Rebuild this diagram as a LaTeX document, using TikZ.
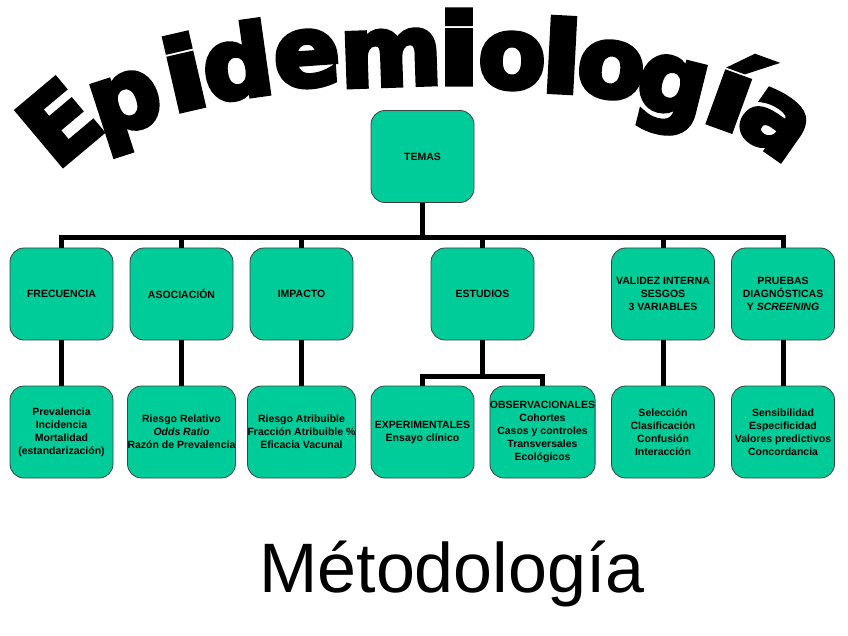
\documentclass[tikz,border=0pt]{standalone}
\usepackage{fontspec}
\usepackage{graphicx}
\setmainfont{Liberation Sans}
\newfontfamily\titlefont[FakeBold=5]{DejaVu Sans Bold}
\usetikzlibrary{calc}
\definecolor{boxfill}{HTML}{00CC99}
\definecolor{boxline}{HTML}{404040}
\begin{document}
\begin{tikzpicture}[x=1pt,y=-1pt,
  box/.style={draw=boxline, line width=0.8pt, fill=boxfill, rounded corners=14pt,
    minimum width=103pt, minimum height=92pt, inner sep=0pt, align=center,
    font=\fontsize{10.5}{13}\selectfont\bfseries},
  conn/.style={line width=5pt, line join=miter},
  tl/.style={inner sep=0pt, anchor=center, font=\titlefont\fontsize{98}{98}\selectfont}]
\useasboundingbox (0,0) rectangle (848,636);
% title letters
\node[tl, rotate=40]  (t1)  at (59,122)  {E};
\node[tl, rotate=18]  (t2)  at (129,112) {p};
\node[tl, rotate=13]  (t3)  at (184,72)  {\scalebox{1.25}[1]{i}};
\node[tl, rotate=8]   (t4)  at (237,61)  {d};
\node[tl, rotate=4]   (t5)  at (307,59)  {e};
\node[tl, rotate=2]   (t6)  at (391,58)  {m};
\node[tl, rotate=0]   (t7)  at (459,47)  {\scalebox{1.25}[1]{i}};
\node[tl, rotate=-1]  (t8)  at (512,61)  {o};
\node[tl, rotate=-3]  (t9)  at (562,55)  {\scalebox{1.2}[1]{l}};
\node[tl, rotate=-7]  (t10) at (611,70)  {o};
\node[tl, rotate=-14] (t11) at (670,96)  {g};
\node[tl, rotate=-20] (t12) at (733,90)  {\scalebox{1.3}[1]{í}};
\node[tl, rotate=-35] (t13) at (775,124) {a};
% boxes
\node[box] (temas) at (422.5,156.5) {TEMAS};
\node[box] (frec) at (61.5,294) {FRECUENCIA};
\node[box] (asoc) at (181.5,294) {ASOCIACIÓN};
\node[box] (imp)  at (301.5,294) {IMPACTO};
\node[box] (est)  at (482.5,294) {ESTUDIOS};
\node[box] (val)  at (663,294) {VALIDEZ INTERNA\\SESGOS\\3 VARIABLES};
\node[box] (pru)  at (783,294) {PRUEBAS\\DIAGNÓSTICAS\\Y \textit{SCREENING}};
\node[box] (prev) at (61.5,432) {Prevalencia\\Incidencia\\Mortalidad\\(estandarización)};
\node[box] (rr)   at (181.5,432) {Riesgo Relativo\\\textit{Odds Ratio}\\Razón de Prevalencia};
\node[box] (ra)   at (301.5,432) {Riesgo Atribuible\\Fracción Atribuible \%\\Eficacia Vacunal};
\node[box] (exp)  at (422.5,432) {EXPERIMENTALES\\Ensayo clínico};
\node[box] (obs)  at (542.5,432) {OBSERVACIONALES\\Cohortes\\Casos y controles\\Transversales\\Ecológicos};
\node[box] (sel)  at (663,432) {Selección\\Clasificación\\Confusión\\Interacción};
\node[box] (sen)  at (783,432) {Sensibilidad\\Especificidad\\Valores predictivos\\Concordancia};
% connectors
\coordinate (bus) at (422.5,238);
\draw[conn] (temas.south) -- (bus);
\foreach \n in {frec,asoc,imp,est,val,pru} \draw[conn] (bus) -| (\n.north);
\draw[conn] (frec.south) -- (prev.north);
\draw[conn] (asoc.south) -- (rr.north);
\draw[conn] (imp.south) -- (ra.north);
\draw[conn] (val.south) -- (sel.north);
\draw[conn] (pru.south) -- (sen.north);
\coordinate (sbus) at (482.5,376);
\draw[conn] (est.south) -- (sbus);
\draw[conn] (sbus) -| (exp.north);
\draw[conn] (sbus) -| (obs.north);
% bottom
\node[inner sep=0pt, anchor=base, font=\fontsize{70}{70}\selectfont] (meto) at (452,592) {Métodología};
\end{tikzpicture}
\end{document}
